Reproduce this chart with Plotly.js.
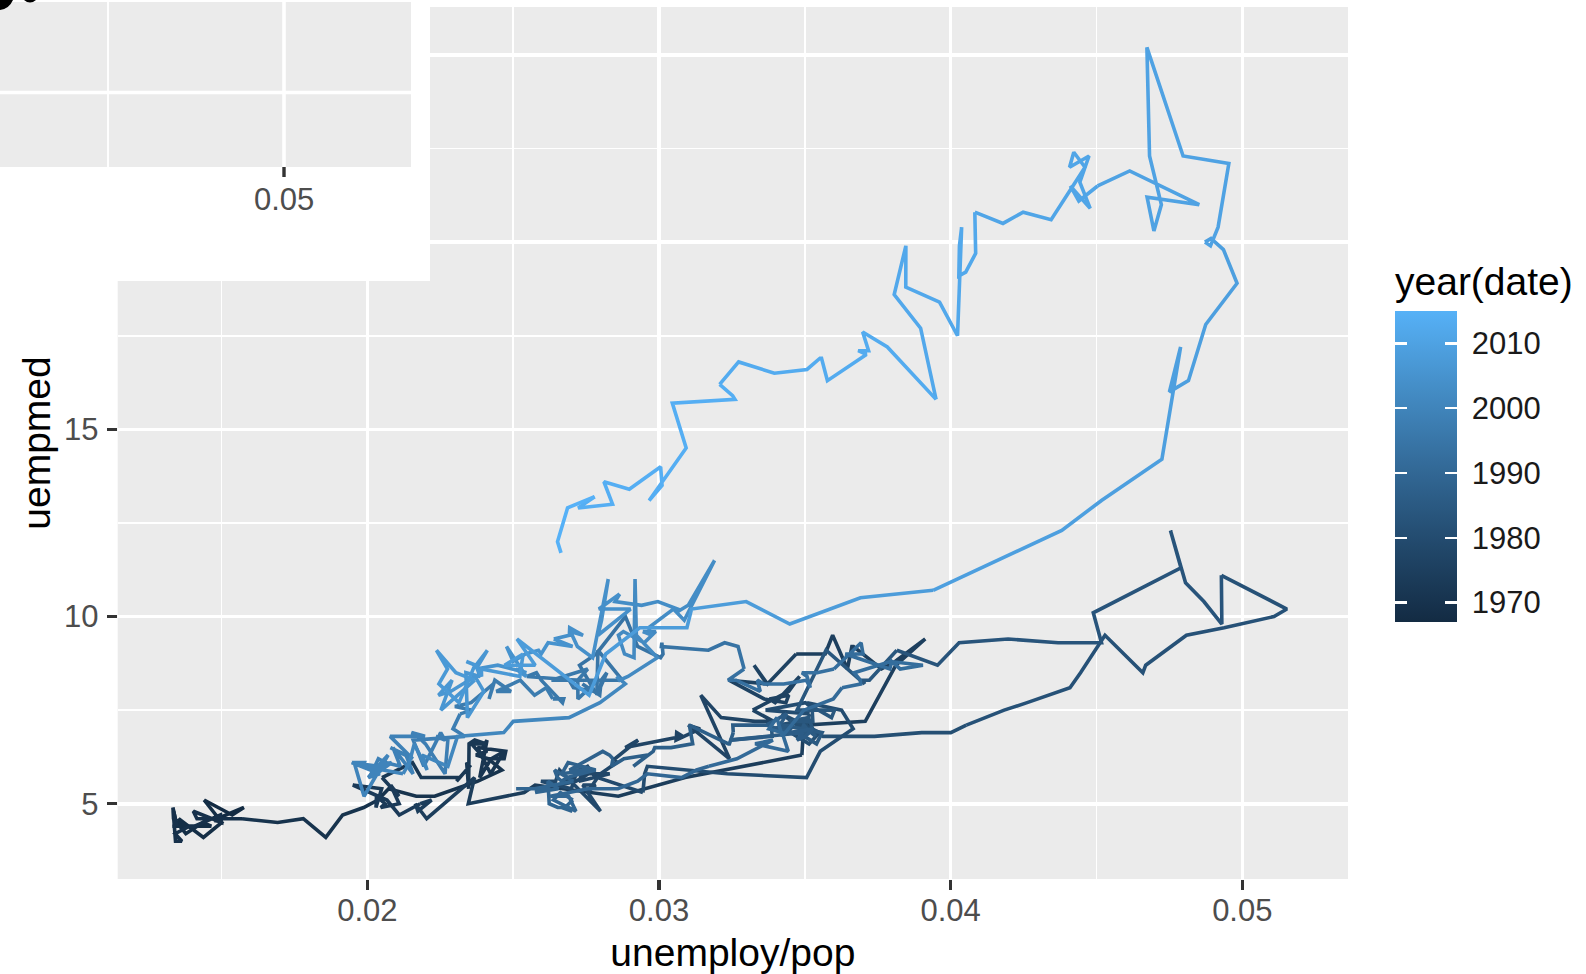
<!DOCTYPE html>
<html>
<head>
<meta charset="utf-8">
<script src="https://cdn.plot.ly/plotly-3.0.1.min.js"></script>
<style>
html,body{margin:0;padding:0;background:#ffffff;overflow:hidden;}
#chart{width:1586px;height:974px;overflow:hidden;}
</style>
</head>
<body>
<div id="chart"></div>
<script>
// ---------------- data (economics: monthly, 1967-07 .. 2015-04) ----------------
const startYear = 1967;
const startMonth = 7;

const unemploy = [
2944,2945,2958,3143,3066,3018,
2878,3001,2877,2709,2740,2938,2883,2768,2686,2689,2715,2685,
2718,2692,2712,2758,2713,2816,2868,2856,3040,3049,2856,2884,
3201,3453,3635,3797,3919,4071,4175,4256,4456,4591,4898,5076,
4986,4903,4987,4959,4996,4949,5035,5134,5042,4954,5161,5154,
5019,4928,5038,4959,4922,4923,4913,4939,4849,4875,4602,4543,
4326,4452,4394,4459,4329,4363,4305,4305,4350,4144,4396,4489,
4644,4731,4634,4618,4705,4927,5063,5022,5437,5523,6140,6636,
7501,7520,7978,8210,8433,8220,8127,7928,7923,7897,7794,7744,
7534,7326,7230,7330,7053,7322,7490,7518,7380,7430,7620,7545,
7280,7443,7307,7059,6911,7134,6829,6925,6751,6763,6815,6386,
6489,6318,6337,6180,6127,6028,6309,6080,6125,5947,6077,6228,
6109,6173,6109,6069,5840,5959,5996,6320,6190,6296,6238,6325,
6683,6702,6729,7358,7984,8098,8363,8281,8021,8088,8023,7718,
8071,8051,7982,7869,8174,8098,7863,8036,8230,8646,9029,9267,
9397,9705,9895,10244,10335,10538,10849,10881,11217,11529,11938,12051,
11534,11545,11408,11268,11154,11246,10548,10623,10282,9887,9499,9331,
9008,8791,8746,8762,8456,8226,8537,8519,8367,8381,8198,8358,
8423,8321,8339,8395,8302,8460,8513,8196,8248,8298,8128,8138,
7795,8402,8383,8364,8439,8508,8319,8135,8310,8243,8159,7883,
7892,7865,7862,7542,7574,7398,7268,7261,7102,7227,7035,6936,
6953,6929,6876,6601,6779,6546,6605,6843,6604,6568,6537,6518,
6682,6359,6205,6468,6375,6577,6495,6511,6590,6630,6725,6667,
6752,6651,6598,6797,6742,6590,6922,7188,7368,7459,7764,7901,
8015,8265,8586,8439,8736,8692,8586,8666,8722,8842,8931,9198,
9283,9454,9460,9415,9744,10040,9850,9787,9781,9398,9565,9557,
9325,9183,9056,9110,9149,9121,8930,8763,8714,8750,8542,8477,
8630,8583,8470,8331,7915,7927,7946,7933,7734,7632,7375,7230,
7375,7187,7153,7645,7430,7427,7527,7484,7478,7328,7426,7423,
7491,7313,7318,7415,7423,7095,7337,6882,6979,7031,7236,7253,
7158,7102,7000,6873,6655,6799,6655,6608,6656,6454,6308,6476,
6368,6306,6422,5941,6047,6212,6259,6179,6300,6280,6100,6032,
5976,6111,5783,6004,5796,5951,6025,5838,5915,5778,5716,5653,
5708,5858,5733,5481,5758,5651,5747,5853,5625,5534,5639,5634,
6023,6089,6141,6271,6226,6484,6583,7042,7142,7694,8003,8258,
8182,8215,8304,8599,8399,8393,8390,8304,8251,8307,8520,8640,
8520,8618,8588,8842,8957,9266,9011,8896,8921,8732,8576,8317,
8370,8167,8491,8170,8212,8286,8136,7990,7927,8061,7932,7934,
7784,7980,7737,7672,7651,7524,7406,7345,7553,7453,7566,7279,
7064,7184,7072,7120,6980,7001,7175,7091,6847,6727,6872,6762,
7116,6927,6731,6850,6766,6979,7149,7067,7170,7237,7240,7645,
7685,7497,7822,7637,8395,8575,8937,9438,9494,10074,10538,11286,
12058,12898,13426,13853,14499,14707,14601,14814,15009,15352,15219,15098,
15046,15113,15202,15325,14849,14474,14512,14648,14579,14516,15081,14348,
14013,13820,13737,13957,13855,13962,13763,13818,13948,13594,13302,13093,
12797,12813,12713,12646,12660,12692,12656,12471,12115,12124,12005,12298,
12471,11950,11689,11760,11654,11751,11335,11279,11270,11136,10787,10404,
10202,10349,10380,9702,9859,9460,9608,9599,9262,8990,9090,8717,
8903,8610,8504,8549
];

const uempmed = [
4.5,4.7,4.6,4.9,4.7,4.8,
5.1,4.5,4.1,4.6,4.4,4.4,4.5,4.2,4.6,4.8,4.4,4.4,
4.4,4.9,4.0,4.0,4.2,4.4,4.4,4.4,4.7,4.5,4.8,4.6,
4.6,4.5,4.6,4.1,4.7,4.9,5.1,5.4,5.2,5.2,5.6,5.9,
6.2,6.3,6.4,6.5,6.7,5.7,6.2,6.4,5.8,6.5,6.4,6.2,
6.2,6.6,6.6,6.7,6.6,5.4,6.1,6.0,5.6,5.7,5.7,6.1,
5.7,5.2,5.5,5.0,4.9,5.0,5.2,4.9,5.4,5.5,5.1,4.7,
5.0,5.1,4.8,5.0,4.6,5.3,5.7,5.0,5.3,5.5,5.2,5.7,
6.3,7.1,7.2,8.7,9.4,8.8,8.6,9.2,9.2,8.6,9.5,9.0,
9.0,8.2,8.7,8.2,8.3,7.8,7.7,7.9,7.8,7.7,8.4,8.0,
7.5,7.2,7.2,7.3,7.9,6.2,7.1,7.0,6.7,6.9,6.8,6.5,
6.7,6.2,6.1,5.7,6.0,5.8,5.8,5.6,5.9,5.5,5.6,5.9,
5.9,5.9,5.9,5.4,5.6,5.6,5.9,4.8,5.5,5.5,5.3,5.7,
5.3,5.8,6.0,5.8,5.7,6.4,7.0,7.5,7.7,7.5,7.7,7.5,
7.4,7.1,7.1,7.4,6.9,6.6,7.1,7.2,6.8,6.8,6.9,6.9,
7.1,7.5,7.7,8.1,8.5,9.5,8.5,8.7,9.5,9.7,10.0,10.2,
11.1,9.8,10.4,10.9,12.3,11.3,10.1,9.3,9.3,9.4,9.3,8.7,
9.1,8.3,8.3,8.2,9.1,7.5,7.5,7.3,7.6,7.2,7.2,7.3,
6.8,7.1,7.1,6.9,6.9,6.6,6.9,7.1,6.9,7.1,7.0,6.8,
6.7,6.9,6.8,6.7,6.8,7.0,6.9,7.1,7.4,7.0,7.1,7.1,
6.9,6.6,6.6,7.1,6.6,6.5,6.5,6.4,6.0,6.3,6.2,6.0,
6.2,6.3,6.4,5.9,5.9,5.8,6.1,5.9,5.7,5.6,5.7,5.9,
5.6,5.4,5.4,5.4,5.3,5.4,5.6,5.0,4.9,4.9,4.8,4.9,
5.1,5.3,5.1,4.8,5.2,5.2,5.4,5.4,5.6,5.8,5.7,5.9,
6.0,6.2,6.7,6.6,6.4,6.9,7.0,7.3,6.8,7.2,7.5,7.8,
8.1,8.2,8.3,8.5,8.8,8.7,8.6,8.8,8.6,9.0,9.0,9.3,
8.6,8.5,8.5,8.4,8.1,8.3,8.2,8.2,8.3,8.0,8.3,8.3,
8.6,9.2,9.3,9.1,9.2,9.3,9.0,8.9,9.2,10.0,9.0,8.7,
8.0,8.1,8.3,8.3,9.1,7.9,8.5,8.3,7.9,8.2,8.0,8.3,
8.3,7.8,8.3,8.6,8.6,8.3,8.3,8.4,8.5,8.3,7.7,7.8,
7.8,8.1,7.9,8.3,8.0,8.0,8.3,7.8,8.2,7.7,7.6,7.5,
7.4,7.0,6.8,6.7,6.0,6.9,6.7,6.8,6.7,5.8,6.6,6.8,
6.9,6.8,6.8,6.2,6.5,6.3,5.8,6.5,6.0,6.1,6.2,5.8,
5.8,6.1,6.0,6.1,5.8,5.7,6.0,6.3,5.2,6.1,6.1,6.0,
5.8,6.1,6.6,5.9,6.3,6.0,6.8,6.9,7.2,7.3,7.7,8.2,
8.4,8.3,8.4,8.9,9.5,11.0,8.9,9.0,9.5,9.6,9.3,9.6,
9.6,9.5,9.7,10.2,9.9,11.5,10.3,10.1,10.2,10.4,10.3,10.4,
10.6,10.2,10.2,9.5,9.9,11.0,8.9,9.2,9.6,9.5,9.7,9.5,
9.4,9.2,9.3,9.0,9.1,9.0,8.8,9.2,8.4,8.6,8.5,8.7,
8.6,9.1,8.7,8.4,8.5,7.3,8.0,8.4,8.0,7.9,8.3,7.5,
8.3,8.5,9.1,8.6,8.2,7.7,8.7,8.8,8.7,8.4,8.6,8.4,
9.0,8.7,8.7,9.4,7.9,9.0,9.7,9.7,10.2,10.4,9.8,10.5,
10.7,11.7,12.3,13.1,14.2,17.2,16.0,16.3,17.8,18.9,19.8,20.1,
20.0,19.9,20.4,22.1,22.3,25.2,22.3,21.0,20.3,21.2,21.0,21.9,
21.5,21.1,21.5,20.9,21.6,22.3,22.0,22.4,22.0,20.6,20.8,20.5,
20.8,19.7,19.2,19.1,19.9,20.4,17.5,18.4,18.8,19.9,18.6,17.7,
15.8,17.2,17.6,17.1,17.1,17.0,16.3,16.9,16.9,16.6,16.5,16.8,
16.2,15.9,15.8,15.7,14.5,13.1,13.5,14.0,13.4,13.6,13.0,12.9,
13.2,12.9,12.0,11.7
];

const pop = [
198712,198911,199113,199311,199498,199657,
199808,199920,200056,200208,200361,200536,200706,200898,201095,201290,201466,201621,
201760,201881,202023,202161,202331,202507,202677,202877,203090,203302,203500,203675,
203849,204008,204156,204401,204607,204830,205052,205295,205540,205788,206024,206238,
206466,206668,206865,207065,207260,207462,207661,207881,208114,208345,208555,208740,
208917,209061,209212,209386,209545,209725,209896,210075,210278,210479,210656,210821,
210985,211120,211254,211420,211577,211746,211909,212092,212289,212475,212634,212785,
212932,213074,213211,213361,213513,213686,213854,214042,214246,214451,214625,214782,
214931,215065,215198,215353,215523,215768,215973,216195,216393,216587,216771,216931,
217095,217249,217381,217528,217685,217861,218035,218233,218436,218635,218831,219006,
219179,219344,219504,219684,219859,220046,220247,220467,220707,220956,221184,221392,
221585,221779,221975,222176,222385,222600,222841,223089,223341,223583,223804,224017,
224214,224411,224587,224812,225022,225251,225486,225748,226010,226270,226501,226725,
226928,227124,227318,227520,227718,227921,228143,228386,228637,228877,229101,229312,
229509,229690,229870,230053,230221,230405,230592,230810,231032,231255,231454,231637,
231813,231986,232153,232336,232489,232669,232858,233057,233277,233488,233682,233867,
234041,234184,234335,234484,234638,234798,234973,235168,235368,235567,235764,235930,
236087,236229,236367,236519,236678,236845,237014,237187,237380,237592,237785,237969,
238141,238300,238464,238624,238792,238970,239176,239385,239610,239823,240024,240200,
240367,240527,240663,240813,240966,241130,241322,241534,241735,241939,242124,242315,
242475,242634,242789,242958,243098,243255,243443,243645,243872,244072,244278,244448,
244624,244793,244939,245111,245282,245475,245672,245888,246097,246299,246502,246699,
246861,247046,247196,247366,247532,247724,247946,248163,248392,248610,248807,249007,
249623,249853,250083,250323,250573,250838,251118,251418,251718,252008,252278,252528,
252756,252986,253216,253456,253706,253971,254251,254551,254851,255141,255411,255661,
255889,256119,256349,256589,256839,257104,257384,257684,257984,258274,258544,258794,
259022,259252,259482,259722,259972,260237,260517,260817,261117,261407,261677,261927,
262155,262385,262615,262855,263105,263370,263650,263950,264250,264540,264810,265060,
265288,265518,265748,265988,266238,266503,266783,267083,267383,267673,267943,268193,
268421,268651,268881,269121,269371,269636,269916,270216,270516,270806,271076,271326,
271554,271784,272014,272254,272504,272769,273049,273349,273649,273939,274209,274459,
274687,274917,275147,275387,275637,275902,276182,276482,276782,277072,277342,277592,
277820,278050,278280,278520,278770,279035,279315,279615,279915,280205,280475,280725,
280976,281181,281386,281601,281826,282061,282311,282571,282831,283076,283296,283506,
283762,283967,284172,284387,284612,284847,285097,285357,285617,285862,286082,286292,
286548,286753,286958,287173,287398,287633,287883,288143,288403,288648,288868,289078,
289333,289538,289743,289958,290183,290418,290668,290928,291188,291433,291653,291863,
292119,292324,292529,292744,292969,293204,293454,293714,293974,294219,294439,294649,
294905,295110,295315,295530,295755,295990,296240,296500,296760,297005,297225,297435,
297690,297895,298100,298315,298540,298775,299025,299285,299545,299790,300010,300220,
300476,300681,300886,301101,301326,301561,301811,302071,302331,302576,302796,303006,
303262,303467,303672,303887,304112,304347,304597,304857,305117,305362,305582,305792,
306048,306253,306458,306673,306898,307133,307383,307643,307903,308148,308368,308578,
308833,309003,309173,309353,309543,309743,309953,310173,310393,310603,310793,310973,
311129,311299,311469,311649,311839,312039,312249,312469,312689,312899,313089,313269,
313425,313595,313765,313945,314135,314335,314545,314765,314985,315195,315385,315565,
315721,315891,316061,316241,316431,316631,316841,317061,317281,317491,317681,317861,
318017,318187,318357,318537,318727,318927,319137,319357,319577,319787,319977,320157,
320313,320483,320653,320887
];

const xTickVals = [0.02, 0.03, 0.04, 0.05];
const yTickVals = [5, 10, 15, 20, 25];
const colorTickVals = [1970, 1980, 1990, 2000, 2010];
const insetTickLabel = "0.05";

// ---------------- styling ----------------
const FONT = "Liberation Sans, Arial, Helvetica, sans-serif";
const W = 1586, H = 974;
const colorStops = [[0, "#132B43"], [0.25, "#22496C"], [0.5, "#336A98"], [0.75, "#448DC6"], [1, "#56B1F7"]];

function hexRgb(h) { return [parseInt(h.slice(1, 3), 16), parseInt(h.slice(3, 5), 16), parseInt(h.slice(5, 7), 16)]; }
function colorAt(t) {
  for (let k = 1; k < colorStops.length; k++) {
    if (t <= colorStops[k][0]) {
      const a = colorStops[k - 1], b = colorStops[k];
      const f = (t - a[0]) / (b[0] - a[0]);
      const ca = hexRgb(a[1]), cb = hexRgb(b[1]);
      return "rgb(" + ca.map((v, j) => Math.round(v + (cb[j] - v) * f)).join(",") + ")";
    }
  }
  return colorStops[colorStops.length - 1][1];
}

// year of each monthly observation
const yearOf = unemploy.map((_, i) => startYear + Math.floor((startMonth - 1 + i) / 12));
const ratio = unemploy.map((u, i) => u / pop[i]);
const yMinYear = yearOf[0], yMaxYear = yearOf[yearOf.length - 1];

// geom_path: every segment takes the colour of its starting point -> one trace per year
const traces = [];
for (let yr = yMinYear; yr <= yMaxYear; yr++) {
  const idx = [];
  yearOf.forEach((y, i) => { if (y === yr) idx.push(i); });
  if (!idx.length) continue;
  const last = idx[idx.length - 1];
  if (last + 1 < ratio.length) idx.push(last + 1);
  traces.push({
    type: "scatter", mode: "lines",
    x: idx.map(i => ratio[i]), y: idx.map(i => uempmed[i]),
    line: { color: colorAt((yr - yMinYear) / (yMaxYear - yMinYear)), width: 3.6 },
    hoverinfo: "skip", showlegend: false
  });
}

// colour bar legend (invisible markers carry the scale)
function scaleTrace(colorbar) {
  return {
    type: "scatter", mode: "markers",
    x: [ratio[0], ratio[1]], y: [uempmed[0], uempmed[1]],
    hoverinfo: "skip", showlegend: false,
    marker: {
      size: 1, opacity: 0,
      color: [yMinYear, yMaxYear], cmin: yMinYear, cmax: yMaxYear,
      colorscale: colorStops, showscale: true, colorbar: colorbar
    }
  };
}
const barBase = {
  xanchor: "left", xref: "paper", yanchor: "middle", yref: "paper",
  y: 1 - 442.5 / H, len: 359,
  lenmode: "pixels", thicknessmode: "pixels",
  xpad: 0, ypad: 0, outlinewidth: 0, bgcolor: "rgba(0,0,0,0)",
  tickmode: "array", tickvals: colorTickVals
};
// main bar with title and labels
traces.push(scaleTrace(Object.assign({}, barBase, {
  x: 1395 / W, thickness: 62,
  ticks: "outside", ticklen: 9, tickwidth: 1, tickcolor: "rgba(0,0,0,0)",
  tickfont: { family: FONT, size: 31, color: "#1a1a1a" },
  title: { text: "year(date)", side: "top", font: { family: FONT, size: 39, color: "#000000" } }
})));
// thin overlays (same geometry, invisible one-letter title) carrying the white tick marks on both bar edges
[1395, 1445].forEach(x0 => {
  traces.push(scaleTrace(Object.assign({}, barBase, {
    x: x0 / W, thickness: 12,
    ticks: "inside", ticklen: 12, tickwidth: 2.5, tickcolor: "#ffffff",
    showticklabels: false,
    title: { text: "y", side: "top", font: { family: FONT, size: 39, color: "rgba(0,0,0,0)" } }
  })));
});

// ---------------- inset decoration (top-left) ----------------
const px = v => v / W;
const py = v => 1 - v / H;
function rect(x0, y0, x1, y1, fill) {
  return { type: "rect", xref: "paper", yref: "paper", layer: "above",
    x0: px(x0), x1: px(x1), y0: py(y1), y1: py(y0), fillcolor: fill, line: { width: 0 } };
}
function seg(x0, y0, x1, y1, color, w) {
  return { type: "line", xref: "paper", yref: "paper", layer: "above",
    x0: px(x0), x1: px(x1), y0: py(y0), y1: py(y1), line: { color: color, width: w } };
}
const shapes = [
  rect(0, 0, 430, 281, "#ffffff"),
  rect(0, 0, 411, 167, "#EBEBEB"),
  seg(108, 0, 108, 167, "#ffffff", 1.9),
  seg(0, 1, 411, 1, "#ffffff", 1.9),
  seg(284, 0, 284, 167, "#ffffff", 3.6),
  seg(0, 92.5, 411, 92.5, "#ffffff", 3.6),
  seg(284, 167, 284, 177, "#333333", 3.4),
  { type: "path", xref: "paper", yref: "paper", layer: "above", fillcolor: "#000000", line: { width: 0 },
    path: "M" + px(0) + "," + py(0) + " L" + px(0) + "," + py(10) + " Q" + px(9) + "," + py(9) + " " + px(13) + "," + py(0) + " Z" +
          " M" + px(24) + "," + py(0) + " Q" + px(30) + "," + py(5) + " " + px(36) + "," + py(0) + " Z" }
];
const annotations = [
  { xref: "paper", yref: "paper", x: px(284), y: py(200), xanchor: "center", yanchor: "middle",
    text: insetTickLabel, showarrow: false, font: { family: FONT, size: 31, color: "#4D4D4D" } }
];

const axisCommon = {
  showline: false, zeroline: false, ticks: "outside", ticklen: 10, tickwidth: 3.4, tickcolor: "#333333",
  gridcolor: "#ffffff", gridwidth: 3.6,
  tickfont: { family: FONT, size: 31, color: "#4D4D4D" },
  fixedrange: true
};

const layout = {
  width: W, height: H,
  margin: { l: 0, r: 0, t: 0, b: 0, pad: 0 },
  paper_bgcolor: "#ffffff", plot_bgcolor: "#EBEBEB",
  showlegend: false, hovermode: false,
  font: { family: FONT },
  xaxis: Object.assign({}, axisCommon, {
    domain: [117.7 / W, 1348 / W], range: [0.011442, 0.053624],
    tickmode: "array", tickvals: xTickVals, ticklabelstandoff: -6,
    minor: { tickmode: "array", tickvals: [0.015, 0.025, 0.035, 0.045], showgrid: true, gridcolor: "#ffffff", gridwidth: 1.8, ticks: "" },
    title: { text: "unemploy/pop", font: { family: FONT, size: 39, color: "#000000" }, standoff: 18 }
  }),
  yaxis: Object.assign({}, axisCommon, {
    domain: [1 - 879 / H, 1 - 7 / H], range: [2.99, 26.28],
    tickmode: "array", tickvals: yTickVals, ticklabelstandoff: 2,
    minor: { tickmode: "array", tickvals: [7.5, 12.5, 17.5, 22.5], showgrid: true, gridcolor: "#ffffff", gridwidth: 1.8, ticks: "" },
    title: { text: "uempmed", font: { family: FONT, size: 39, color: "#000000" }, standoff: 1 }
  }),
  shapes: shapes,
  annotations: annotations
};

Plotly.newPlot("chart", traces, layout, { staticPlot: true, displayModeBar: false });
</script>
</body>
</html>
